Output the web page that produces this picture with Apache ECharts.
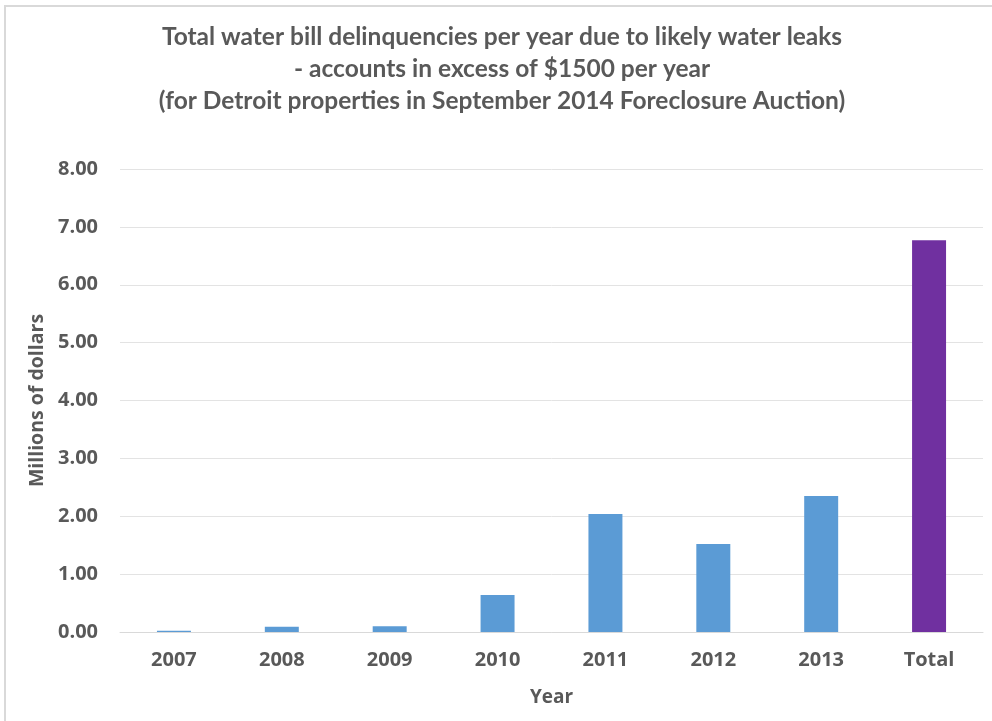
<!DOCTYPE html>
<html>
<head>
<meta charset="utf-8">
<script src="https://cdn.jsdelivr.net/npm/echarts@6/dist/echarts.min.js"></script>
<style>
  html, body { margin: 0; padding: 0; background: #ffffff; }
  #chart { width: 992px; height: 721px; }
</style>
</head>
<body>
<div id="chart"></div>
<script>
const categories = ['2007', '2008', '2009', '2010', '2011', '2012', '2013', 'Total'];
const values = [0.02, 0.09, 0.10, 0.64, 2.04, 1.52, 2.35, 6.77];
const yTicks = { min: 0, max: 8, interval: 1 };
const titleText = 'Total water bill delinquencies per year due to likely water leaks\n- accounts in excess of $1500 per year\n(for Detroit properties in September 2014 Foreclosure Auction)';

const BLUE = '#5B9BD5';
const PURPLE = '#7030A0';
const TEXT = '#595959';

const chart = echarts.init(document.getElementById('chart'), null, { renderer: 'canvas' });
chart.setOption({
  backgroundColor: '#ffffff',
  animation: false,
  title: {
    text: titleText,
    left: 497,
    top: 16,
    textAlign: 'center',
    textStyle: {
      fontFamily: 'Lato',
      fontWeight: 'bold',
      fontSize: 24.5,
      lineHeight: 32,
      color: TEXT
    }
  },
  graphic: [{
    type: 'rect',
    silent: true,
    shape: { x: 5, y: 6, width: 1100, height: 1000 },
    style: { fill: 'none', stroke: '#d9d9d9', lineWidth: 2 }
  }],
  grid: { left: 120, right: 9, top: 169, bottom: 89, containLabel: false },
  xAxis: {
    type: 'category',
    data: categories,
    name: 'Year',
    nameLocation: 'middle',
    nameGap: 56,
    nameTextStyle: { fontFamily: 'Open Sans', fontWeight: 'bold', fontSize: 19, color: TEXT },
    axisLine: { lineStyle: { color: '#d9d9d9', width: 1 } },
    axisTick: { show: false },
    axisLabel: { margin: 18, fontFamily: 'Open Sans', fontWeight: 'bold', fontSize: 20, color: TEXT }
  },
  yAxis: {
    type: 'value',
    min: yTicks.min,
    max: yTicks.max,
    interval: yTicks.interval,
    name: 'Millions of dollars',
    nameLocation: 'middle',
    nameGap: 66,
    nameTextStyle: { fontFamily: 'Open Sans', fontWeight: 'bold', fontSize: 19.5, color: TEXT },
    axisLine: { show: false },
    axisTick: { show: false },
    splitLine: { lineStyle: { color: '#e3e3e3', width: 1 } },
    axisLabel: {
      margin: 22,
      fontFamily: 'Open Sans', fontWeight: 'bold', fontSize: 20, color: TEXT,
      formatter: v => v.toFixed(2)
    }
  },
  series: [{
    type: 'bar',
    data: values,
    barWidth: '31.5%',
    itemStyle: {
      color: p => (p.name === 'Total' ? PURPLE : BLUE)
    }
  }]
});
</script>
</body>
</html>
